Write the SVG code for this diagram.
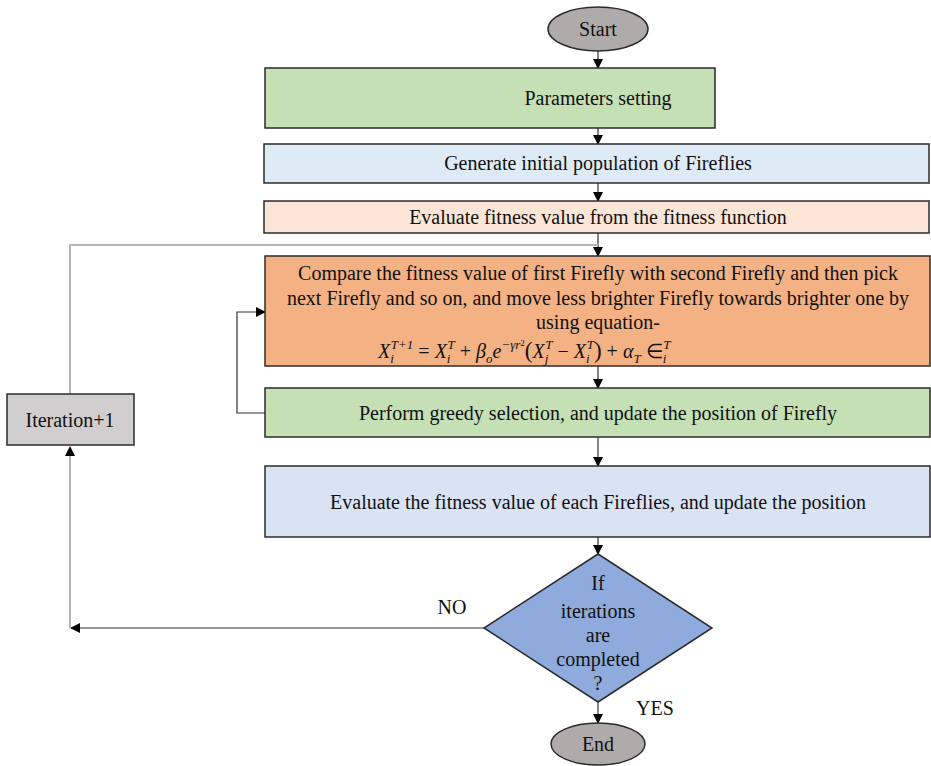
<svg xmlns="http://www.w3.org/2000/svg" width="931" height="766" viewBox="0 0 931 766">
<defs>
<marker id="ah" markerWidth="10" markerHeight="10" refX="9" refY="5" orient="auto" markerUnits="userSpaceOnUse">
<path d="M0,0 L10,5 L0,10 z" fill="#000"/>
</marker>
<style>
.box{stroke:#2b2b2b;stroke-width:1.5}
.t{font-family:"Liberation Serif","Times New Roman",serif;font-size:20px;fill:#111;text-anchor:middle}
.eq{font-family:"Liberation Serif","Times New Roman",serif;font-size:20px;fill:#111;font-style:italic}
.s{font-size:13px}
.n{font-style:normal}
.c{fill:none;stroke:#333;stroke-width:1.2}
.g{fill:none;stroke:#b5b5b5;stroke-width:2}
</style>
</defs>
<rect width="931" height="766" fill="#fff"/>
<g id="connectors">
<line class="c" x1="598" y1="51" x2="598" y2="68" marker-end="url(#ah)"/>
<line class="c" x1="598" y1="128" x2="598" y2="144" marker-end="url(#ah)"/>
<line class="c" x1="598" y1="183" x2="598" y2="201" marker-end="url(#ah)"/>
<line class="c" x1="598" y1="233" x2="598" y2="256" marker-end="url(#ah)"/>
<polyline class="g" points="70,394 70,245 598,245"/>
<line class="c" x1="598" y1="366" x2="598" y2="388" marker-end="url(#ah)"/>
<polyline class="c" points="265,413 237,413 237,312 265,312" marker-end="url(#ah)"/>
<line class="c" x1="598" y1="437" x2="598" y2="466" marker-end="url(#ah)"/>
<line class="c" x1="598" y1="537" x2="598" y2="554" marker-end="url(#ah)"/>
<line class="c" x1="484" y1="628" x2="71" y2="628" marker-end="url(#ah)"/>
<line class="g" x1="70" y1="628" x2="70" y2="455"/>
<path d="M65,456 L70,446 L75,456 z" fill="#000"/>
<line class="c" x1="598" y1="702" x2="598" y2="723" marker-end="url(#ah)"/>
<text class="t" x="452" y="614">NO</text>
<text class="t" x="655" y="715">YES</text>
</g>
<g id="start">
<ellipse class="box" cx="598" cy="29" rx="50" ry="22" fill="#AFABAB"/>
<text class="t" x="598" y="36">Start</text>
</g>
<g id="params">
<rect class="box" x="265" y="68" width="450" height="60" fill="#C5E0B4"/>
<text class="t" x="598" y="105">Parameters setting</text>
</g>
<g id="generate">
<rect class="box" x="264" y="144" width="665" height="39" fill="#DEEBF7"/>
<text class="t" x="598" y="170">Generate initial population of Fireflies</text>
</g>
<g id="evaluate">
<rect class="box" x="264" y="201" width="665" height="32" fill="#FBE5D6"/>
<text class="t" x="598" y="224">Evaluate fitness value from the fitness function</text>
</g>
<g id="compare">
<rect class="box" x="265" y="256" width="665" height="110" fill="#F4B183"/>
<text class="t" x="598" y="280">Compare the fitness value of first Firefly with second Firefly and then pick</text>
<text class="t" x="598" y="305">next Firefly and  so on, and move less brighter Firefly towards brighter one by</text>
<text class="t" x="598" y="329">using equation-</text>
<text class="eq" x="378" y="358">X<tspan class="s" dy="5">i</tspan><tspan class="s" dx="-3" dy="-14">T+1</tspan><tspan class="n" dy="9"> = </tspan>X<tspan class="s" dy="5">i</tspan><tspan class="s" dx="-3" dy="-14">T</tspan><tspan class="n" dy="9"> + </tspan>β<tspan class="s" dy="5">o</tspan><tspan dy="-5">e</tspan><tspan class="s" dy="-9">−γr</tspan><tspan font-size="9" class="n" dy="-3">2</tspan><tspan class="n" font-size="23" dy="12">(</tspan>X<tspan class="s" dy="5">j</tspan><tspan class="s" dx="-3" dy="-14">T</tspan><tspan class="n" dy="9"> − </tspan>X<tspan class="s" dy="5">i</tspan><tspan class="s" dx="-3" dy="-14">T</tspan><tspan class="n" font-size="23" dy="9">)</tspan><tspan class="n"> + </tspan>α<tspan class="s" dy="5">T</tspan><tspan class="n" dy="-5">  ∈</tspan><tspan class="s" dy="5">i</tspan><tspan class="s" dx="-3" dy="-14">T</tspan></text>
</g>
<g id="greedy">
<rect class="box" x="265" y="388" width="665" height="49" fill="#C5E0B4"/>
<text class="t" x="598" y="420">Perform greedy selection, and update the position of Firefly</text>
</g>
<g id="evaluate-each">
<rect class="box" x="265" y="466" width="665" height="71" fill="#DAE3F3"/>
<text class="t" x="598" y="509">Evaluate the fitness value of each Fireflies, and update the position</text>
</g>
<g id="decision">
<polygon class="box" points="598,554 712,628 598,702 484,628" fill="#8FAADC"/>
<text class="t" x="598" y="590">If</text>
<text class="t" x="598" y="618">iterations</text>
<text class="t" x="598" y="642">are</text>
<text class="t" x="598" y="666">completed</text>
<text class="t" x="598" y="690">?</text>
</g>
<g id="end">
<ellipse class="box" cx="598" cy="744" rx="47" ry="21" fill="#AFABAB"/>
<text class="t" x="598" y="751">End</text>
</g>
<g id="iteration">
<rect class="box" x="7" y="394" width="127" height="51" fill="#D0CECE"/>
<text class="t" x="70" y="427">Iteration+1</text>
</g>
</svg>
